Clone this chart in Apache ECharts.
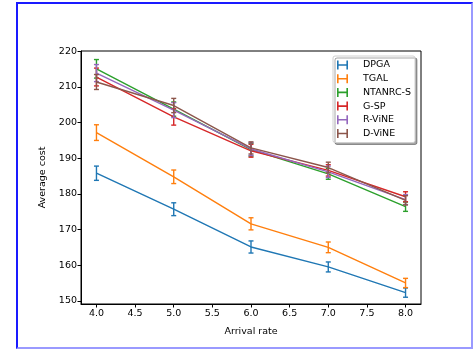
<!DOCTYPE html>
<html>
<head>
<meta charset="utf-8">
<script src="https://cdn.jsdelivr.net/npm/echarts@6/dist/echarts.min.js"></script>
<style>
  html, body { margin: 0; padding: 0; background: #fff; }
  #frame {
    position: absolute; left: 16px; top: 2px; width: 453px; height: 343px;
    border-left: 2px solid #1a1aff; border-top: 2px solid #1a1aff;
    border-right: 2px solid #9a9aff; border-bottom: 2px solid #9a9aff;
  }
  #chart { position: absolute; left: 0; top: 0; width: 473px; height: 351px; }
</style>
</head>
<body>
<div id="frame"></div>
<div id="chart"></div>
<script>
// arrival rates on the x axis
const rates = [4.0, 5.0, 6.0, 7.0, 8.0]
const xTicks = [4.0, 4.5, 5.0, 5.5, 6.0, 6.5, 7.0, 7.5, 8.0]
const yTicks = [150, 160, 170, 180, 190, 200, 210, 220]

const names = ['DPGA', 'TGAL', 'NTANRC-S', 'G-SP', 'R-ViNE', 'D-ViNE']
const colors = ['#1f77b4', '#ff7f0e', '#2ca02c', '#d62728', '#9467bd', '#8c564b']

// mean average cost
const dpga = [185.8, 175.7, 165.1, 159.5, 152.3]
const tgal = [197.2, 184.8, 171.6, 165.0, 155.0]
const ntanrc = [215.1, 203.8, 192.4, 185.6, 176.4]
const gsp = [212.8, 201.6, 192.1, 186.6, 179.2]
const rvine = [213.9, 203.5, 192.6, 186.2, 178.4]
const dvine = [211.4, 204.8, 192.9, 187.4, 178.2]

// half-height of the error bars
const dpgaErr = [2.0, 1.8, 1.7, 1.4, 1.3]
const tgalErr = [2.2, 1.9, 1.7, 1.5, 1.3]
const ntanrcErr = [2.6, 2.0, 1.8, 1.5, 1.3]
const gspErr = [2.5, 2.3, 1.8, 1.6, 1.4]
const rvineErr = [2.4, 2.1, 1.8, 1.6, 1.4]
const dvineErr = [2.1, 2.0, 1.7, 1.5, 1.3]

const means = [dpga, tgal, ntanrc, gsp, rvine, dvine]
const errs = [dpgaErr, tgalErr, ntanrcErr, gspErr, rvineErr, dvineErr]

// H shaped legend handle like matplotlib errorbar
const hIcon = 'path://M0,0 h1.6 v3.7 h7.8 v-3.7 h1.6 v9 h-1.6 v-3.7 h-7.8 v3.7 h-1.6 Z'

const font = 'DejaVu Sans'

const series = []
names.forEach((name, i) => {
    series.push({
        name: name,
        type: 'line',
        data: rates.map((r, k) => [r, means[i][k]]),
        symbol: 'none',
        lineStyle: { color: colors[i], width: 1.4 },
        itemStyle: { color: colors[i] },
        z: 2 + i
    })
    series.push({
        name: name,
        type: 'custom',
        data: rates.map((r, k) => [r, means[i][k] - errs[i][k], means[i][k] + errs[i][k]]),
        z: 2 + i,
        renderItem: (params, api) => {
            const lo = api.coord([api.value(0), api.value(1)])
            const hi = api.coord([api.value(0), api.value(2)])
            const w = 2.5
            const style = { stroke: colors[i], lineWidth: 1.4 }
            return {
                type: 'group',
                children: [
                    { type: 'line', shape: { x1: lo[0], y1: lo[1], x2: hi[0], y2: hi[1] }, style: style },
                    { type: 'line', shape: { x1: lo[0] - w, y1: lo[1], x2: lo[0] + w, y2: lo[1] }, style: style },
                    { type: 'line', shape: { x1: hi[0] - w, y1: hi[1], x2: hi[0] + w, y2: hi[1] }, style: style }
                ]
            }
        }
    })
})

const chart = echarts.init(document.getElementById('chart'))
chart.setOption({
    animation: false,
    textStyle: { fontFamily: font },
    grid: {
        left: 81, top: 51, width: 340, height: 253,
        show: true, borderColor: '#000', borderWidth: 1, backgroundColor: 'transparent'
    },
    legend: {
        data: names.map((n, i) => ({ name: n, icon: hIcon, itemStyle: { color: colors[i] } })),
        orient: 'vertical',
        left: 333,
        top: 56,
        width: 85,
        itemWidth: 11,
        itemHeight: 9,
        itemGap: 3.7,
        padding: [4, 4, 4, 4],
        backgroundColor: '#fff',
        borderColor: '#d0d0d0',
        borderWidth: 1,
        borderRadius: 2,
        shadowColor: 'rgba(0,0,0,0.35)',
        shadowOffsetX: 2,
        shadowOffsetY: 2,
        shadowBlur: 0,
        selectedMode: false,
        textStyle: { fontFamily: font, fontSize: 9.5, color: '#000', padding: [0, 0, 0, 10] }
    },
    xAxis: {
        type: 'value',
        min: 3.8,
        max: 8.2,
        name: 'Arrival rate',
        nameLocation: 'middle',
        nameGap: 23,
        nameTextStyle: { fontFamily: font, fontSize: 9.5, color: '#000' },
        splitLine: { show: false },
        axisLine: { show: true, onZero: false, lineStyle: { color: '#000', width: 1 } },
        axisTick: { show: true, length: 3.5, customValues: xTicks, lineStyle: { color: '#000' } },
        axisLabel: {
            customValues: xTicks, margin: 5, fontSize: 9.5, color: '#000',
            formatter: v => v.toFixed(1)
        }
    },
    yAxis: {
        type: 'value',
        min: 149.1,
        max: 220.1,
        name: 'Average cost',
        nameLocation: 'middle',
        nameGap: 33,
        nameTextStyle: { fontFamily: font, fontSize: 9.5, color: '#000' },
        splitLine: { show: false },
        axisLine: { show: true, onZero: false, lineStyle: { color: '#000', width: 1 } },
        axisTick: { show: true, length: 3.5, customValues: yTicks, lineStyle: { color: '#000' } },
        axisLabel: { customValues: yTicks, margin: 4, fontSize: 9.5, color: '#000' }
    },
    series: series
})
</script>
</body>
</html>
